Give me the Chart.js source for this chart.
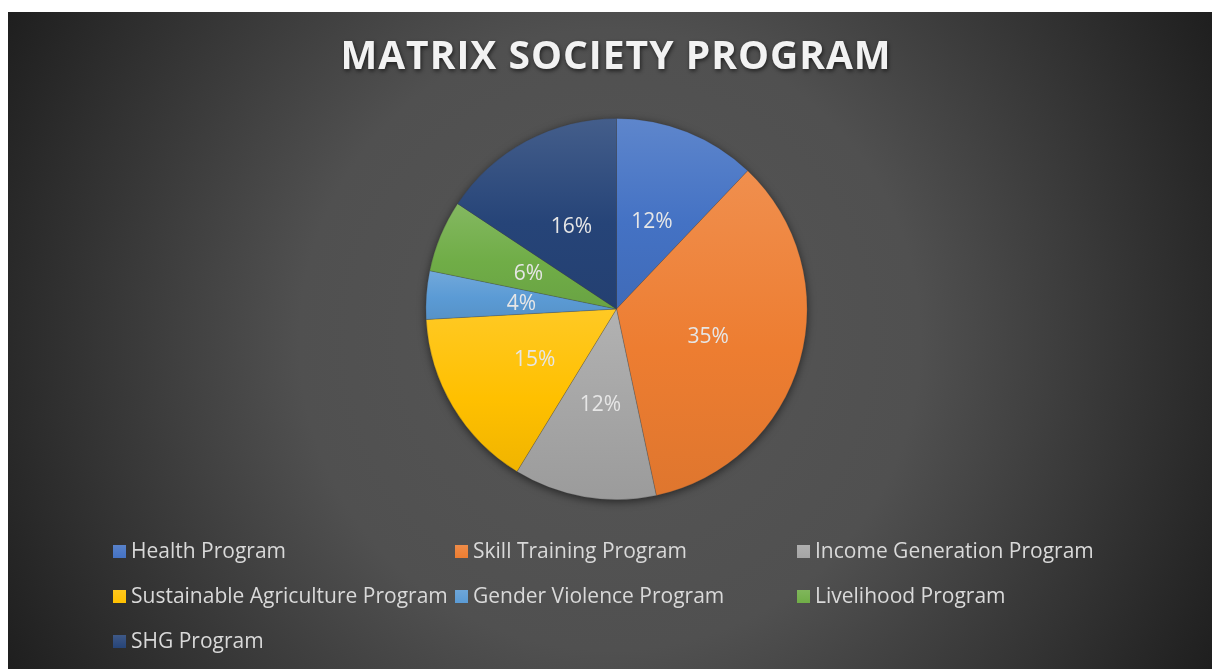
<!DOCTYPE html>
<html>
<head>
<meta charset="utf-8">
<script src="https://cdn.jsdelivr.net/npm/chart.js@4.4.1/dist/chart.umd.min.js"></script>
<style>
html,body{margin:0;padding:0;background:#fff;}
#wrap{position:relative;width:1212px;height:669px;}
</style>
</head>
<body>
<div id="wrap"><canvas id="c" width="1212" height="669"></canvas></div>
<script>
const chartTitle = "MATRIX SOCIETY PROGRAM";
const categories = ["Health Program","Skill Training Program","Income Generation Program","Sustainable Agriculture Program","Gender Violence Program","Livelihood Program","SHG Program"];
const values = [12.1, 34.6, 12.1, 15.4, 4.1, 6.1, 15.7];
const colors = ["#4472C4","#ED7D31","#A5A5A5","#FFC000","#5B9BD5","#70AD47","#264478"];

function hexToRgb(h){const n=parseInt(h.slice(1),16);return [(n>>16)&255,(n>>8)&255,n&255];}
function mix(h,t,amt){const a=hexToRgb(h),b=hexToRgb(t);return 'rgb('+a.map((v,i)=>Math.round(v+(b[i]-v)*amt)).join(',')+')';}

function sliceGradient(c){
  const chart=c.chart, area=chart.chartArea, i=c.dataIndex;
  const base=colors[i];
  if(!area) return base;
  const cx=(area.left+area.right)/2, cy=(area.top+area.bottom)/2;
  const r=Math.min(area.right-area.left, area.bottom-area.top)/2;
  const data=chart.data.datasets[0].data;
  const tot=data.reduce((a,b)=>a+b,0);
  let s=0; for(let k=0;k<i;k++) s+=data[k];
  const a0=s/tot*Math.PI*2, a1=(s+data[i])/tot*Math.PI*2;
  const ys=[cy, cy-r*Math.cos(a0), cy-r*Math.cos(a1)];
  if(a0<=0.0001) ys.push(cy-r);
  if(a0<=Math.PI && a1>=Math.PI) ys.push(cy+r);
  const ctx=chart.ctx;
  const g=ctx.createLinearGradient(0,Math.min(...ys),0,Math.max(...ys));
  g.addColorStop(0,mix(base,'#ffffff',0.14));
  g.addColorStop(0.55,base);
  g.addColorStop(1,mix(base,'#000000',0.06));
  return g;
}

const bgPlugin={
  id:'bg',
  beforeDraw(chart){
    const ctx=chart.ctx;
    ctx.save();
    ctx.fillStyle='#ffffff';
    ctx.fillRect(0,0,1212,669);
    const g=ctx.createRadialGradient(610,340,0,610,340,690);
    g.addColorStop(0,'#565656');
    g.addColorStop(0.45,'#505050');
    g.addColorStop(0.68,'#3b3b3b');
    g.addColorStop(1,'#1e1e1e');
    ctx.fillStyle=g;
    ctx.fillRect(8,12,1204,657);
    ctx.font='bold 39px "Open Sans"';
    ctx.textAlign='center';
    ctx.textBaseline='middle';
    try{ctx.letterSpacing='1px';}catch(e){}
    ctx.shadowColor='rgba(0,0,0,0.6)';
    ctx.shadowBlur=4;
    ctx.shadowOffsetX=1;
    ctx.shadowOffsetY=2;
    ctx.fillStyle='#f2f2f2';
    ctx.fillText(chartTitle,616,58);
    ctx.restore();
  },
  beforeDatasetsDraw(chart){
    const arc=chart.getDatasetMeta(0).data[0];
    if(!arc) return;
    const ctx=chart.ctx;
    ctx.save();
    ctx.shadowColor='rgba(0,0,0,0.55)';
    ctx.shadowBlur=8;
    ctx.shadowOffsetY=2;
    ctx.fillStyle='#444';
    ctx.beginPath();
    ctx.arc(arc.x,arc.y,arc.outerRadius,0,Math.PI*2);
    ctx.fill();
    ctx.restore();
  },
  afterDatasetsDraw(chart){
    const ctx=chart.ctx;
    const meta=chart.getDatasetMeta(0);
    const data=chart.data.datasets[0].data;
    const tot=data.reduce((a,b)=>a+b,0);
    ctx.save();
    ctx.font='21px "Open Sans"';
    ctx.fillStyle='#e6e6e6';
    ctx.textAlign='center';
    ctx.textBaseline='middle';
    meta.data.forEach((el,i)=>{
      const p=el.tooltipPosition();
      ctx.fillText(Math.round(data[i]/tot*100)+'%',p.x,p.y+2);
    });
    ctx.restore();
  },
  afterDraw(chart){
    const ctx=chart.ctx;
    const colX=[113,455,797], rowY=[551,596,641];
    ctx.save();
    ctx.font='21px "Open Sans"';
    ctx.textAlign='left';
    ctx.textBaseline='middle';
    chart.data.labels.forEach((lab,i)=>{
      const x=colX[i%3], y=rowY[Math.floor(i/3)];
      const g=ctx.createLinearGradient(0,y-7,0,y+7);
      g.addColorStop(0,mix(colors[i],'#ffffff',0.12));
      g.addColorStop(1,colors[i]);
      ctx.fillStyle=g;
      ctx.fillRect(x,y-6,13,13);
      ctx.fillStyle='#d9d9d9';
      ctx.fillText(lab,x+18,y+1);
    });
    ctx.restore();
  }
};

new Chart(document.getElementById('c'),{
  type:'pie',
  data:{
    labels:categories,
    datasets:[{
      data:values,
      backgroundColor:sliceGradient,
      borderColor:'rgba(60,60,60,0.35)',
      borderWidth:0.75
    }]
  },
  options:{
    responsive:false,
    animation:false,
    layout:{padding:{top:118,bottom:169,left:21,right:0}},
    plugins:{legend:{display:false},title:{display:false},tooltip:{enabled:false}}
  },
  plugins:[bgPlugin]
});
</script>
</body>
</html>
